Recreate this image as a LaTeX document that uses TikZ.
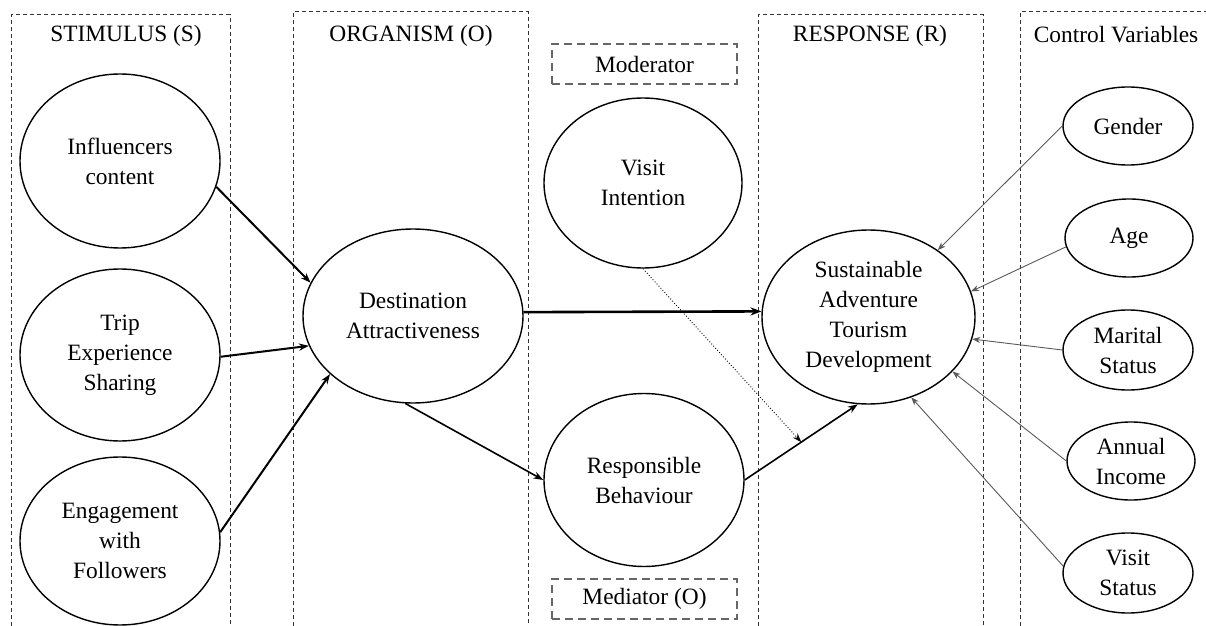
\documentclass[tikz,border=0pt]{standalone}
\usepackage{fontspec}
\setmainfont{Liberation Serif}
\usetikzlibrary{shapes.geometric,arrows.meta}
\begin{document}
\begin{tikzpicture}[x=0.5pt,y=-0.5pt,
  txt/.style={font=\fontsize{11.7}{15}\selectfont, align=center},
  var/.style={draw, ellipse, line width=0.7pt, inner sep=0pt, txt},
  panel/.style={draw=black!80, line width=0.5pt, dash pattern=on 2pt off 1.5pt},
  tagbox/.style={draw=black!60, line width=0.6pt, dash pattern=on 4pt off 2.5pt,
    minimum width=92.5pt, minimum height=20pt, inner sep=0pt, txt},
  mainarrow/.style={line width=1pt, -{Stealth[length=5pt,width=3.6pt]}},
  pathone/.style={line width=1.3pt, -{Stealth[length=5.5pt,width=4pt]}},
  medarrow/.style={line width=0.8pt, -{Stealth[length=5pt,width=3.6pt]}},
  modarrow/.style={line width=0.45pt, densely dotted, -{Stealth[length=4.5pt,width=3.2pt]}},
  ctrlarrow/.style={draw=black!65, line width=0.45pt, -{Stealth[length=4pt,width=3pt]}}
]
\useasboundingbox (0,0) rectangle (1206,626);

% column frames, open at the bottom
\draw[panel] (11,626) -- (11,15) -- (230,15) -- (230,626);
\draw[panel] (293,626) -- (293,12) -- (528,12) -- (528,626);
\draw[panel] (758,626) -- (758,15) -- (983,15) -- (983,626);
\draw[panel] (1020,626) -- (1020,12) -- (1206,12);

% column headings
\node[txt] (hS) at (126,36) {STIMULUS (S)};
\node[txt] (hO) at (411,36) {ORGANISM (O)};
\node[txt] (hR) at (870,36) {RESPONSE (R)};
\node[txt] (hC) at (1116,35) {Control Variables};

% role labels
\node[tagbox] (modtag) at (644.5,64) {Moderator};
\node[tagbox] (medtag) at (644.5,599) {Mediator (O)};

% stimulus constructs
\node[var, minimum width=100pt, minimum height=87pt] (inf) at (120,161) {Influencers\\content};
\node[var, minimum width=100pt, minimum height=86pt] (trip) at (120,355) {Trip\\Experience\\Sharing};
\node[var, minimum width=100pt, minimum height=84pt] (eng) at (120,541) {Engagement\\with\\Followers};

% organism, moderator, mediator
\node[var, minimum width=110pt, minimum height=87pt] (dest) at (413,316) {Destination\\Attractiveness};
\node[var, minimum width=99pt, minimum height=85pt] (vi) at (643,183) {Visit\\Intention};
\node[var, minimum width=100pt, minimum height=86.5pt] (resp) at (644,480) {Responsible\\Behaviour};

% response
\node[var, minimum width=106.5pt, minimum height=87pt] (sust) at (868.5,317) {Sustainable\\Adventure\\Tourism\\Development};

% control variables
\node[var, minimum width=65pt, minimum height=39pt] (gen) at (1128,126) {Gender};
\node[var, minimum width=64pt, minimum height=39pt] (age) at (1129,238) {Age};
\node[var, minimum width=65pt, minimum height=40pt] (mar) at (1128,350) {Marital\\Status};
\node[var, minimum width=64pt, minimum height=39pt] (inc) at (1131,461) {Annual\\Income};
\node[var, minimum width=65pt, minimum height=40pt] (vst) at (1128,573) {Visit\\Status};

% stimulus -> organism
\draw[mainarrow] (inf.-15.6) -- (dest.162.6);
\draw[mainarrow] (trip.-1) -- (dest.-164.7);
\draw[mainarrow] (eng.5.8) -- (dest.-145);

% organism -> response
\draw[pathone] (dest.2) -- (sust.177.3);
\draw[medarrow] (dest.-95) -- (resp.west);
\draw[medarrow] (resp.east) -- coordinate[pos=0.5] (medmid) (sust.-97);

% moderating effect
\draw[modarrow] (vi.south) -- (medmid);

% control variables -> response
\draw[ctrlarrow] (gen.west) -- (sust.44.6);
\draw[ctrlarrow] (age.-172) -- (sust.14.6);
\draw[ctrlarrow] (mar.west) -- (sust.-12.5);
\draw[ctrlarrow] (inc.west) -- (sust.-33);
\draw[ctrlarrow] (vst.174) -- (sust.-62.6);
\end{tikzpicture}
\end{document}
